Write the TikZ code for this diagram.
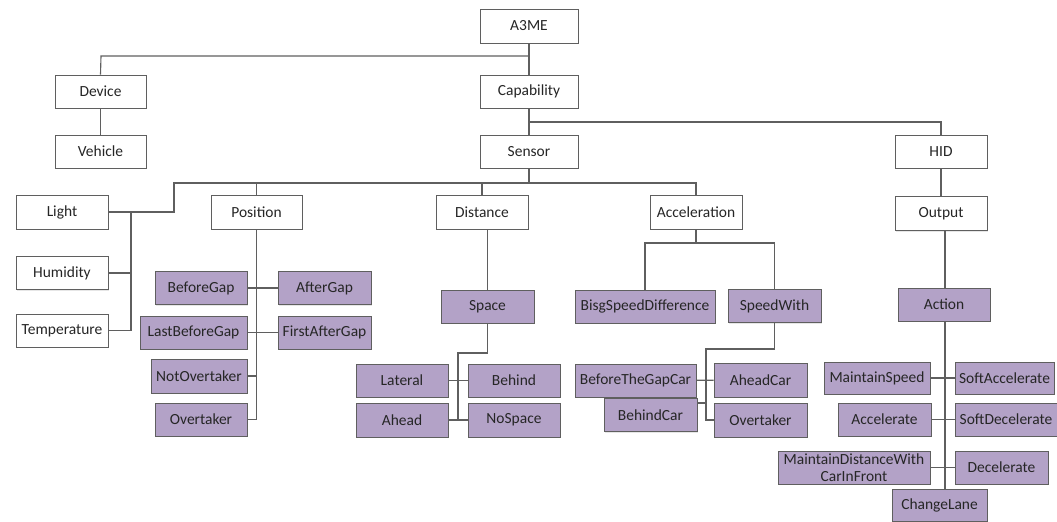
\documentclass[tikz,border=0pt]{standalone}
\usepackage{fontspec}
\setmainfont{Carlito}
\usepackage{tikz}
\usetikzlibrary{shadows}

\definecolor{lilac}{RGB}{179,162,199}
\definecolor{edge}{RGB}{95,95,95}

\tikzset{
  box/.style={draw=edge, line width=0.6pt, fill=white, text=black!85,
    minimum width=2.3cm, minimum height=0.825cm, inner sep=2pt,
    font=\fontsize{11}{12.8}\selectfont, align=center,
    drop shadow={opacity=0.2, shadow xshift=0.8pt, shadow yshift=-0.8pt}},
  pbox/.style={box, fill=lilac},
  link/.style={draw=edge, line width=0.8pt}
}

\begin{document}
\begin{tikzpicture}[x=0.025cm, y=-0.025cm]
\useasboundingbox (0,0) rectangle (1057,521);

% Top levels
\node[box, minimum width=2.45cm, minimum height=0.85cm] (A3ME) at (529,26) {A3ME};
\node[box, minimum width=2.275cm] (Device) at (100.5,91.5) {Device};
\node[box, minimum width=2.275cm] (Vehicle) at (100.5,151.5) {Vehicle};
\node[box, minimum width=2.45cm] (Capability) at (529,91.5) {Capability};
\node[box, minimum width=2.45cm] (Sensor) at (529,151.5) {Sensor};
\node[box] (HID) at (941,151.5) {HID};

% Sensor children
\node[box, minimum height=0.85cm] (Light) at (62,212) {Light};
\node[box] (Humidity) at (62,273) {Humidity};
\node[box] (Temperature) at (62,330.5) {Temperature};
\node[box, minimum width=2.275cm, minimum height=0.85cm] (Position) at (256.5,212) {Position};
\node[box, minimum height=0.85cm] (Distance) at (482,212) {Distance};
\node[box, minimum height=0.85cm] (Acceleration) at (696,212) {Acceleration};
\node[box, minimum height=0.85cm] (Output) at (941,213.5) {Output};

% Position
\node[pbox] (BeforeGap) at (201,288) {BeforeGap};
\node[pbox, minimum width=2.325cm] (AfterGap) at (324.5,288) {AfterGap};
\node[pbox, minimum width=2.675cm] (LastBeforeGap) at (193.5,332.5) {LastBeforeGap};
\node[pbox, minimum width=2.325cm] (FirstAfterGap) at (324.5,332.5) {FirstAfterGap};
\node[pbox, minimum width=2.4cm, minimum height=0.85cm] (NotOvertaker) at (199,376) {NotOvertaker};
\node[pbox] (Overtaker) at (201,419.5) {Overtaker};

% Distance
\node[pbox, minimum width=2.325cm] (Space) at (487.5,306.5) {Space};
\node[pbox] (Lateral) at (402,380.5) {Lateral};
\node[pbox] (Behind) at (514,380.5) {Behind};
\node[pbox, minimum height=0.85cm] (Ahead) at (402,420) {Ahead};
\node[pbox, minimum height=0.85cm] (NoSpace) at (514,420) {NoSpace};

% Acceleration
\node[pbox, minimum width=3.5cm] (BisgSpeedDifference) at (645,306.5) {BisgSpeedDifference};
\node[pbox, minimum width=2.325cm] (SpeedWith) at (774.5,306) {SpeedWith};
\node[pbox, minimum width=3.025cm] (BeforeTheGapCar) at (635.5,380.5) {BeforeTheGapCar};
\node[pbox, minimum width=2.325cm, minimum height=0.85cm] (AheadCar) at (760.5,380) {AheadCar};
\node[pbox, minimum width=2.325cm] (BehindCar) at (650.5,415) {BehindCar};
\node[pbox, minimum width=2.325cm, minimum height=0.85cm] (OvertakerCar) at (760.5,420) {Overtaker};

% Output
\node[pbox] (Action) at (944,304.5) {Action};
\node[pbox, minimum width=2.65cm, minimum height=0.8cm] (MaintainSpeed) at (877,378) {MaintainSpeed};
\node[pbox, minimum width=2.475cm, minimum height=0.8cm] (SoftAccelerate) at (1004.5,378) {SoftAccelerate};
\node[pbox, minimum width=2.325cm] (Accelerate) at (884.5,419.5) {Accelerate};
\node[pbox, minimum width=2.55cm] (SoftDecelerate) at (1006,419.5) {SoftDecelerate};
\node[pbox, minimum width=3.8cm, inner sep=1pt] (MaintainDistance) at (854,467.5) {MaintainDistanceWith\\[-1pt]CarInFront};
\node[pbox, minimum width=2.325cm] (Decelerate) at (1001.5,467.5) {Decelerate};
\node[pbox, minimum width=2.375cm, minimum height=0.8cm] (ChangeLane) at (939.5,505) {ChangeLane};

% Junctions
\coordinate (dbus) at (101,56);
\coordinate (hbus) at (941,122);
\coordinate (sbus) at (174,183);
\coordinate (ebus) at (131,212);
\coordinate (spj) at (458,353);
\coordinate (abus) at (696,243);
\coordinate (swj) at (706,349);
\coordinate (ocol) at (945,230);

% Connectors
\draw[link] (A3ME) -- (Capability);
\draw[link] (A3ME.south) |- (dbus) -- (Device.north);
\draw[link] (Device) -- (Vehicle);
\draw[link] (Capability) -- (Sensor);
\draw[link] (Capability.south) |- (hbus) -- (HID.north);
\draw[link] (HID) -- (Output);

\draw[link] (Acceleration.north) |- (sbus) |- (Light.east);
\draw[link] (Sensor.south) -- (Sensor.south |- sbus);
\draw[link] (Position.north) -- (Position.north |- sbus);
\draw[link] (Distance.north) -- (Distance.north |- sbus);
\draw[link] (ebus) |- (Temperature.east);
\draw[link] (Humidity.east) -- (Humidity.east -| ebus);

\draw[link] (Position.south) |- (Overtaker.east);
\draw[link] (BeforeGap) -- (AfterGap);
\draw[link] (LastBeforeGap) -- (FirstAfterGap);
\draw[link] (NotOvertaker.east) -- (NotOvertaker.east -| Position.south);

\draw[link] (Space.north |- Distance.south) -- (Space.north);
\draw[link] (Space.south) |- (spj) -- (spj |- Ahead.east);
\draw[link] (Lateral) -- (Behind);
\draw[link] (Ahead) -- (NoSpace);

\draw[link] (Acceleration) -- (abus);
\draw[link] (BisgSpeedDifference.north) |- (abus) -| (SpeedWith.north);
\draw[link] (SpeedWith.south) |- (swj) |- (OvertakerCar.west);
\draw[link] (BeforeTheGapCar) -- (AheadCar);
\draw[link] ([yshift=0.3cm]BehindCar.east) -- ([yshift=0.3cm]BehindCar.east -| swj);

\draw[link] (ocol) -- (ocol |- Action.north);
\draw[link] (ocol |- Action.south) -- (ocol |- ChangeLane.north);
\draw[link] (MaintainSpeed) -- (SoftAccelerate);
\draw[link] (Accelerate) -- (SoftDecelerate);
\draw[link] (MaintainDistance) -- (Decelerate);
\end{tikzpicture}
\end{document}
